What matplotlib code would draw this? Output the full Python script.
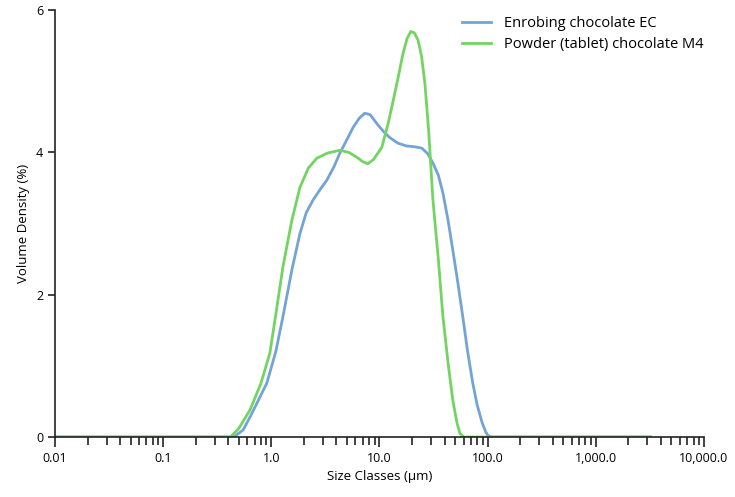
import numpy as np
import matplotlib.pyplot as plt
from matplotlib.ticker import FixedLocator, FuncFormatter, LogLocator, NullFormatter

plt.rcParams['font.family'] = ['Open Sans', 'DejaVu Sans']

# Enrobing chocolate EC
ec_size = [0.01, 0.45, 0.55, 0.635, 0.75, 0.91, 1.1, 1.28, 1.55, 1.84, 2.1, 2.43, 2.8, 3.26,
           3.8, 4.3, 5.0, 5.7, 6.5, 7.3, 8.2, 9.4, 10.8, 12.4, 14.8, 17.8, 21.0, 24.6,
           28.0, 31.2, 35.0, 38.6, 43.0, 47.6, 53.0, 58.9, 65.0, 72.8, 80.0, 89.0, 96.0,
           101.0, 110.0, 3200.0]
ec_vol = [0.0, 0.0, 0.1, 0.28, 0.5, 0.76, 1.2, 1.69, 2.35, 2.86, 3.15, 3.33, 3.47, 3.61,
          3.8, 3.99, 4.18, 4.35, 4.48, 4.55, 4.53, 4.41, 4.3, 4.21, 4.13, 4.09, 4.08, 4.06,
          3.98, 3.85, 3.68, 3.43, 3.05, 2.63, 2.17, 1.69, 1.22, 0.76, 0.45, 0.2, 0.07,
          0.02, 0.0, 0.0]

# Powder (tablet) chocolate M4
m4_size = [0.01, 0.42, 0.5, 0.635, 0.8, 0.97, 1.12, 1.28, 1.55, 1.84, 2.2, 2.64, 3.3, 4.3,
           5.2, 6.2, 7.0, 7.8, 8.8, 10.5, 12.0, 13.4, 15.0, 16.5, 18.0, 19.5, 21.0, 22.7,
           24.5, 26.3, 28.5, 31.2, 35.0, 38.6, 43.0, 47.6, 52.0, 55.5, 60.0, 3200.0]
m4_vol = [0.0, 0.0, 0.12, 0.38, 0.75, 1.18, 1.8, 2.39, 3.05, 3.51, 3.78, 3.92, 3.99, 4.03,
          4.0, 3.93, 3.87, 3.84, 3.9, 4.07, 4.4, 4.73, 5.08, 5.39, 5.6, 5.70, 5.68, 5.58,
          5.35, 4.97, 4.3, 3.33, 2.5, 1.69, 1.05, 0.52, 0.2, 0.05, 0.0, 0.0]

xticks = [0.01, 0.1, 1.0, 10.0, 100.0, 1000.0, 10000.0]

fig = plt.figure(figsize=(7.35, 4.97), dpi=100)
ax = fig.add_axes([0.0748, 0.1207, 0.883, 0.859])

ax.plot(ec_size, ec_vol, color='#74a3d6', lw=2, label='Enrobing chocolate EC')
ax.plot(m4_size, m4_vol, color='#72d562', lw=2, label='Powder (tablet) chocolate M4')

ax.set_xscale('log')
ax.set_xlim(0.01, 10000)
ax.set_ylim(0, 6)
ax.xaxis.set_major_locator(FixedLocator(xticks))
ax.xaxis.set_major_formatter(FuncFormatter(lambda v, p: '0.01' if v < 0.05 else f'{v:,.1f}'))
ax.xaxis.set_minor_locator(LogLocator(base=10, subs=np.arange(2, 10)))
ax.xaxis.set_minor_formatter(NullFormatter())
ax.set_yticks([0, 2, 4, 6])

for s in ['top', 'right']:
    ax.spines[s].set_visible(False)
for s in ['left', 'bottom']:
    ax.spines[s].set_color('#222222')
    ax.spines[s].set_linewidth(1.2)
ax.tick_params(axis='both', which='both', direction='out', colors='#222222', labelcolor='black',
               labelsize=9, width=1.2)
ax.tick_params(axis='x', which='major', length=7)
ax.tick_params(axis='x', which='minor', length=6)
ax.tick_params(axis='y', length=5)

ax.set_xlabel('Size Classes (µm)', fontsize=9.5)
ax.set_ylabel('Volume Density (%)', fontsize=9.5)

fig.legend(loc='upper left', bbox_to_anchor=(0.628, 0.967), frameon=False, fontsize=10.5,
           handlelength=2.0, handletextpad=0.9, labelspacing=0.4, borderpad=0, borderaxespad=0)

fig.savefig('out.png', dpi=100)
